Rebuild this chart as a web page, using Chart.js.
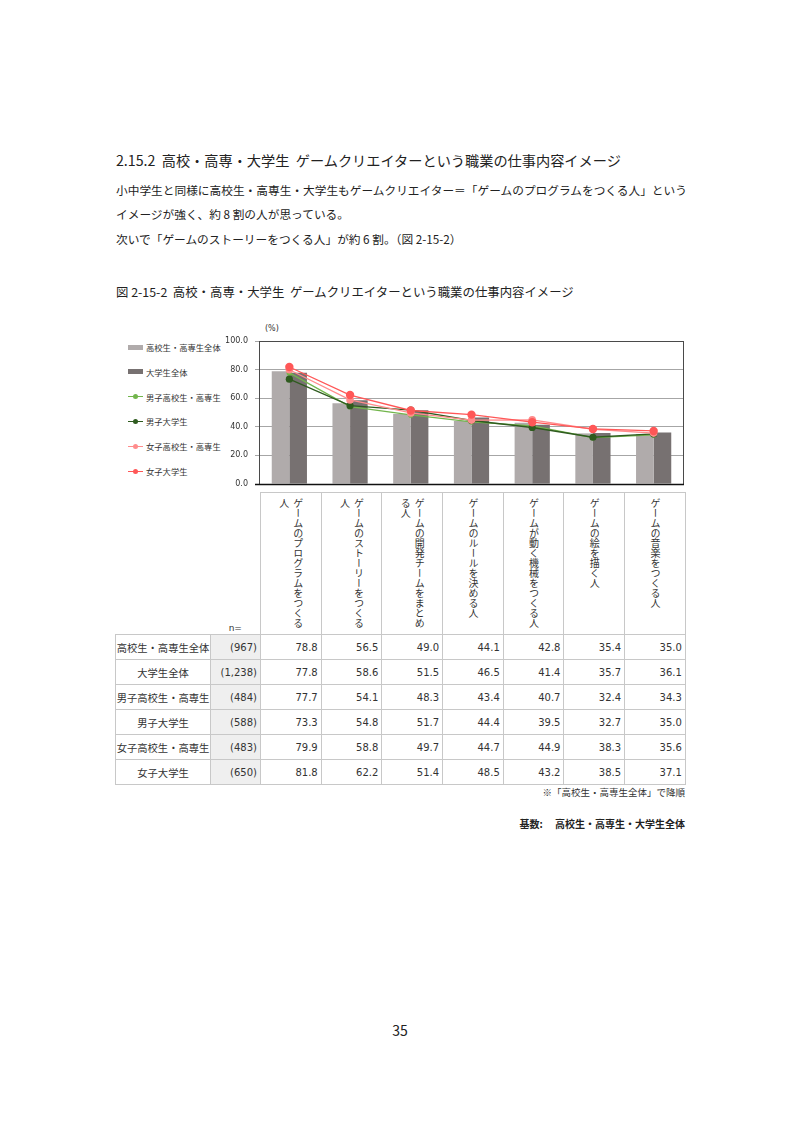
<!DOCTYPE html>
<html lang="ja">
<head>
    <meta charset="UTF-8">
    <title>図 2-15-2 ゲームクリエイターという職業の仕事内容イメージ</title>
    <script src="https://cdn.jsdelivr.net/npm/chart.js"></script>
    <style>
        body {
            margin: 0;
            background: #fff;
            font-family: "Noto Sans CJK JP", sans-serif;
            color: #222;
        }
        #page {
            position: relative;
            width: 800px;
            height: 1131px;
            overflow: hidden;
        }
        .abs {
            position: absolute;
            white-space: pre;
        }
        #heading {
            left: 116px;
            top: 149px;
            font-size: 14.2px;
            line-height: 22px;
        }
        .body-line {
            left: 116px;
            font-size: 11.7px;
            line-height: 18px;
        }
        #caption {
            left: 116px;
            top: 283px;
            font-size: 12.4px;
            line-height: 18px;
        }
        #chartWrap {
            position: absolute;
            left: 200px;
            top: 320px;
            width: 490px;
            height: 170px;
        }
        #chart {
            display: block;
        }
        #unit {
            left: 265px;
            top: 324px;
            font-size: 8px;
            font-family: "DejaVu Sans", sans-serif;
            color: #333;
        }
        #legend {
            position: absolute;
            left: 128px;
            top: 341px;
            font-size: 8.3px;
            color: #333;
        }
        .lg-item {
            position: absolute;
            left: 0;
            height: 12px;
            display: flex;
            align-items: center;
            white-space: nowrap;
        }
        .lg-key {
            position: relative;
            width: 15px;
            height: 12px;
            margin-right: 3px;
        }
        #dataTable {
            position: absolute;
            left: 115px;
            top: 492px;
            border-collapse: collapse;
            table-layout: fixed;
            font-family: "DejaVu Sans", "Noto Sans CJK JP", sans-serif;
            font-size: 10px;
            color: #333;
        }
        #dataTable td, #dataTable th {
            border: 1px solid #c8c8c8;
            padding: 0 3px;
            font-weight: normal;
        }
        #dataTable th.blank {
            border: none;
        }
        #dataTable th.nlabel {
            border: none;
            vertical-align: bottom;
            text-align: center;
            font-size: 9px;
            padding-bottom: 1px;
        }
        #dataTable th.cat {
            height: 136px;
            vertical-align: top;
            padding: 5px 0 0 0;
        }
        .cat-box {
            display: flex;
            justify-content: center;
        }
        .cat-text {
            writing-mode: vertical-rl;
            height: 131px;
            font-family: "Noto Sans CJK JP", sans-serif;
            font-size: 10px;
            line-height: 14px;
            text-align: start;
        }
        #dataTable td {
            height: 24px;
            text-align: right;
        }
        #dataTable td.rowname {
            text-align: center;
            font-family: "Noto Sans CJK JP", sans-serif;
            font-size: 10.3px;
            padding: 0;
        }
        #dataTable td.ncell {
            background: #efefef;
        }
        #note {
            right: 115px;
            top: 785px;
            font-size: 9.5px;
            color: #333;
        }
        #base {
            right: 115px;
            top: 816px;
            font-size: 10px;
            font-weight: bold;
            color: #222;
        }
        #pageNo {
            left: 0;
            width: 800px;
            text-align: center;
            top: 1020px;
            font-size: 14px;
        }
    </style>
</head>
<body>
<div id="page">
    <div id="heading" class="abs">2.15.2  高校・高専・大学生  ゲームクリエイターという職業の仕事内容イメージ</div>
    <div class="abs body-line" style="top:181px">小中学生と同様に高校生・高専生・大学生もゲームクリエイター＝「ゲームのプログラムをつくる人」という</div>
    <div class="abs body-line" style="top:205px">イメージが強く、約 8 割の人が思っている。</div>
    <div class="abs body-line" style="top:230px">次いで「ゲームのストーリーをつくる人」が約 6 割。（図 2-15-2）</div>
    <div id="caption" class="abs">図 2-15-2  高校・高専・大学生  ゲームクリエイターという職業の仕事内容イメージ</div>

    <div id="unit" class="abs">(%)</div>
    <div id="legend"></div>
    <div id="chartWrap"><canvas id="chart" width="490" height="170"></canvas></div>

    <table id="dataTable"></table>
    <div id="note" class="abs">※「高校生・高専生全体」で降順</div>
    <div id="base" class="abs">基数:　 高校生・高専生・大学生全体</div>
    <div id="pageNo" class="abs">35</div>
</div>

<script>
    const categories = [
        'ゲームのプログラムをつくる人',
        'ゲームのストーリーをつくる人',
        'ゲームの開発チームをまとめる人',
        'ゲームのルールを決める人',
        'ゲームが動く機械をつくる人',
        'ゲームの絵を描く人',
        'ゲームの音楽をつくる人'
    ];
    const seriesNames = ['高校生・高専生全体', '大学生全体', '男子高校生・高専生', '男子大学生', '女子高校生・高専生', '女子大学生'];
    const sampleSizes = ['(967)', '(1,238)', '(484)', '(588)', '(483)', '(650)'];
    const hsAll = [78.8, 56.5, 49.0, 44.1, 42.8, 35.4, 35.0];
    const univAll = [77.8, 58.6, 51.5, 46.5, 41.4, 35.7, 36.1];
    const boysHs = [77.7, 54.1, 48.3, 43.4, 40.7, 32.4, 34.3];
    const boysUniv = [73.3, 54.8, 51.7, 44.4, 39.5, 32.7, 35.0];
    const girlsHs = [79.9, 58.8, 49.7, 44.7, 44.9, 38.3, 35.6];
    const girlsUniv = [81.8, 62.2, 51.4, 48.5, 43.2, 38.5, 37.1];
    const yTicks = [0, 20, 40, 60, 80, 100];

    const seriesValues = [hsAll, univAll, boysHs, boysUniv, girlsHs, girlsUniv];
    const colors = ['#b0abab', '#777171', '#72b54c', '#2f5b1f', '#ff8c8c', '#ff5757'];
    const pointRadius = [0, 0, 2.8, 3.6, 3.8, 4.2];

    // bars first two, lines for the four sub-groups
    const datasets = seriesValues.map((values, i) => {
        if (i < 2) {
            return {
                type: 'bar',
                label: seriesNames[i],
                data: values,
                backgroundColor: colors[i],
                categoryPercentage: 0.58,
                barPercentage: 1.0,
                order: 10
            };
        }
        return {
            type: 'line',
            label: seriesNames[i],
            data: values,
            borderColor: colors[i],
            backgroundColor: colors[i],
            borderWidth: 1.3,
            pointRadius: pointRadius[i],
            pointBorderWidth: 0,
            tension: 0,
            order: 6 - i
        };
    });

    const frame = {
        id: 'frame',
        afterDraw(chart) {
            const { ctx, chartArea: a } = chart;
            ctx.save();
            ctx.strokeStyle = '#4a4a4a';
            ctx.lineWidth = 1;
            ctx.strokeRect(a.left + 0.5, a.top + 0.5, a.right - a.left - 1, a.bottom - a.top);
            ctx.strokeStyle = '#111';
            ctx.lineWidth = 1.5;
            ctx.beginPath();
            ctx.moveTo(a.left - 4, a.bottom + 0.5);
            ctx.lineTo(a.right, a.bottom + 0.5);
            ctx.stroke();
            ctx.restore();
        }
    };

    new Chart(document.getElementById('chart'), {
        data: {
            labels: categories,
            datasets: datasets
        },
        options: {
            responsive: false,
            animation: false,
            devicePixelRatio: 1,
            layout: {
                padding: { top: 21, right: 6, bottom: 6, left: 0 }
            },
            plugins: {
                legend: { display: false },
                tooltip: { enabled: false }
            },
            scales: {
                x: {
                    display: false,
                    grid: { display: false }
                },
                y: {
                    min: 0,
                    max: 100,
                    afterBuildTicks: (scale) => {
                        scale.ticks = yTicks.map(v => ({ value: v }));
                    },
                    afterFit: (scale) => {
                        scale.width = 59;
                        scale.paddingTop = 0;
                        scale.paddingBottom = 0;
                    },
                    ticks: {
                        padding: 7,
                        color: '#333',
                        font: { family: 'DejaVu Sans', size: 8 },
                        callback: (v) => Number(v).toFixed(1)
                    },
                    grid: {
                        color: '#a6a6a6',
                        lineWidth: 1,
                        tickLength: 4,
                        drawOnChartArea: true
                    },
                    border: { display: false }
                }
            }
        },
        plugins: [frame]
    });

    function buildLegend() {
        const legend = document.getElementById('legend');
        seriesNames.forEach((name, i) => {
            const item = document.createElement('div');
            item.className = 'lg-item';
            item.style.top = (i * 24.8 + 6) + 'px';
            const key = document.createElement('div');
            key.className = 'lg-key';
            if (i < 2) {
                key.innerHTML = `<div style="position:absolute;left:0;top:3.5px;width:15px;height:5px;background:${colors[i]}"></div>`;
            } else {
                key.innerHTML = `<div style="position:absolute;left:0;top:5.5px;width:15px;height:1.3px;background:${colors[i]}"></div>` +
                    `<div style="position:absolute;left:5px;top:3.5px;width:5px;height:5px;border-radius:50%;background:${colors[i]}"></div>`;
            }
            item.appendChild(key);
            const label = document.createElement('span');
            label.textContent = name;
            item.appendChild(label);
            item.style.marginTop = '-6px';
            legend.appendChild(item);
        });
    }

    function buildTable() {
        const table = document.getElementById('dataTable');
        const colgroup = document.createElement('colgroup');
        const widths = [95, 50].concat(categories.map(() => 60.7));
        widths.forEach(w => {
            const col = document.createElement('col');
            col.style.width = w + 'px';
            colgroup.appendChild(col);
        });
        table.appendChild(colgroup);

        const head = document.createElement('tr');
        head.innerHTML = '<th class="blank"></th><th class="nlabel">n=</th>' +
            categories.map(c => `<th class="cat"><div class="cat-box"><div class="cat-text">${c}</div></div></th>`).join('');
        table.appendChild(head);

        seriesNames.forEach((name, i) => {
            const tr = document.createElement('tr');
            tr.innerHTML = `<td class="rowname">${name}</td><td class="ncell">${sampleSizes[i]}</td>` +
                seriesValues[i].map(v => `<td>${v.toFixed(1)}</td>`).join('');
            table.appendChild(tr);
        });
    }

    buildLegend();
    buildTable();
</script>
</body>
</html>
